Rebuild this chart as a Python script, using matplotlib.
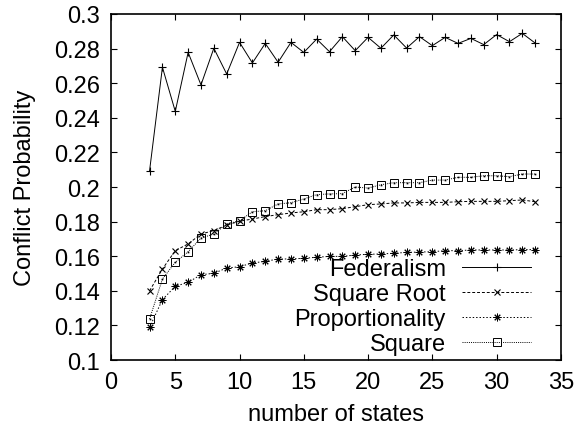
import numpy as np
import matplotlib.pyplot as plt

plt.rcParams['font.family'] = ['Liberation Sans', 'DejaVu Sans']

states = list(range(3, 34))

federalism = [0.2094, 0.2692, 0.2437, 0.2778, 0.2590, 0.2802, 0.2653, 0.2836,
              0.2717, 0.2830, 0.2721, 0.2836, 0.2778, 0.2855, 0.2782, 0.2869,
              0.2788, 0.2865, 0.2802, 0.2879, 0.2803, 0.2869, 0.2817, 0.2865,
              0.2830, 0.2859, 0.2823, 0.2881, 0.2840, 0.2888, 0.2832]

square_root = [0.1400, 0.1526, 0.1632, 0.1671, 0.1728, 0.1748, 0.1780, 0.1802,
               0.1815, 0.1829, 0.1840, 0.1850, 0.1857, 0.1869, 0.1869, 0.1875,
               0.1886, 0.1898, 0.1902, 0.1908, 0.1908, 0.1911, 0.1911, 0.1911,
               0.1915, 0.1917, 0.1917, 0.1917, 0.1921, 0.1925, 0.1915]

proportionality = [0.1189, 0.1349, 0.1426, 0.1449, 0.1493, 0.1501, 0.1532, 0.1539,
                   0.1561, 0.1570, 0.1584, 0.1584, 0.1588, 0.1594, 0.1599, 0.1599,
                   0.1607, 0.1611, 0.1613, 0.1617, 0.1622, 0.1624, 0.1626, 0.1632,
                   0.1632, 0.1636, 0.1636, 0.1636, 0.1636, 0.1638, 0.1638]

square = [0.1237, 0.1468, 0.1565, 0.1626, 0.1705, 0.1728, 0.1786, 0.1805,
          0.1857, 0.1863, 0.1902, 0.1909, 0.1931, 0.1956, 0.1960, 0.1962,
          0.2000, 0.1994, 0.2013, 0.2025, 0.2025, 0.2025, 0.2040, 0.2040,
          0.2056, 0.2056, 0.2065, 0.2065, 0.2060, 0.2075, 0.2075]

xticks = [0, 5, 10, 15, 20, 25, 30, 35]
yticks = [0.1, 0.12, 0.14, 0.16, 0.18, 0.2, 0.22, 0.24, 0.26, 0.28, 0.3]

fs = 17

fig = plt.figure(figsize=(5.8, 4.31), dpi=100)
ax = fig.add_axes([0.1914, 0.1624, 0.7756, 0.8028])

lw = 0.7
ax.plot(states, federalism, color='black', lw=lw, ls='-',
        marker='+', ms=6, mew=0.8, label='Federalism')
ax.plot(states, square_root, color='black', lw=lw, ls=(0, (3, 2)),
        marker='x', ms=5, mew=0.8, label='Square Root')
ax.plot(states, proportionality, color='black', lw=lw, ls=(0, (1.5, 2)),
        marker=(8, 2, 0), ms=5.5, mew=0.7, label='Proportionality')
ax.plot(states, square, color='black', lw=lw, ls=(0, (1, 1.2)),
        marker='s', ms=5.5, mew=0.7, mfc='none', label='Square')
ax.plot(states, square, color='black', lw=0, marker='s', ms=1.2, mew=0)

ax.set_xlim(0, 35)
ax.set_ylim(0.1, 0.3)
ax.set_xticks(xticks)
ax.set_yticks(yticks)
ax.set_xticklabels(['%g' % t for t in xticks])
ax.set_yticklabels(['%g' % t for t in yticks])
ax.tick_params(direction='in', top=True, right=True, length=4, width=0.8,
               labelsize=fs, pad=8)
for s in ax.spines.values():
    s.set_linewidth(1.2)

ax.set_xlabel('number of states', fontsize=fs, labelpad=7)
ax.set_ylabel('Conflict Probability', fontsize=fs, labelpad=13)

# legend right edge of handles at ~x=531px
leg = ax.legend(loc='lower right', bbox_to_anchor=((531 - 111) / 450, 0.015),
                frameon=False, fontsize=fs, markerfirst=False,
                handlelength=2.9, handletextpad=0.7, labelspacing=0.12,
                borderaxespad=0.0, borderpad=0.0)
for t in leg.get_texts():
    t.set_ha('right')
leg._legend_box.align = 'right'

fig.savefig('out.png', dpi=100)
